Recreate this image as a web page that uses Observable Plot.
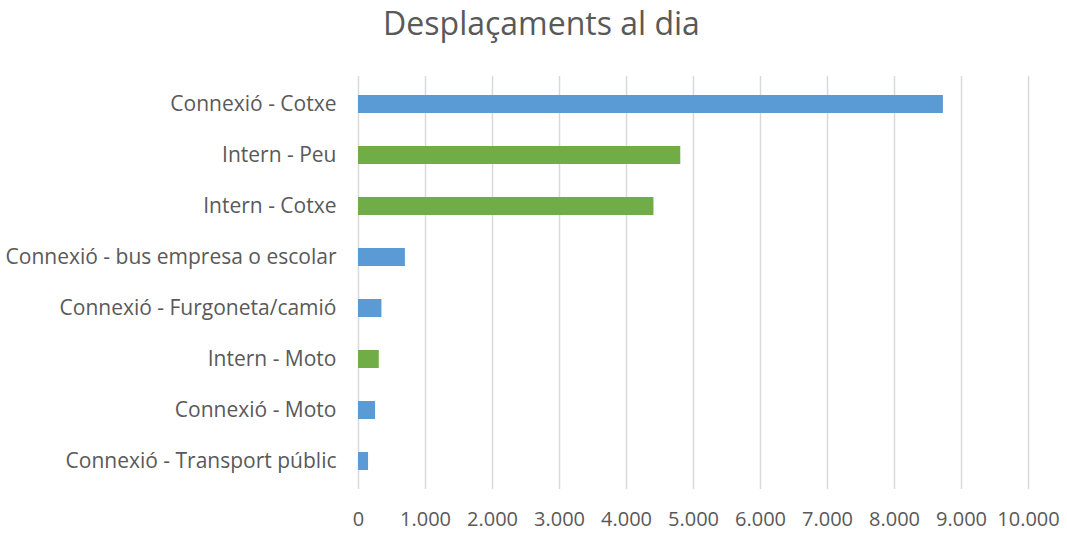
<!DOCTYPE html>
<html>
<head>
<meta charset="utf-8">
<script src="https://cdn.jsdelivr.net/npm/d3@7"></script>
<script src="https://cdn.jsdelivr.net/npm/@observablehq/plot@0.6"></script>
<style>
  body { margin: 0; background: #fff; }
  #title { height: 62px; font-family: "Open Sans", sans-serif; font-size: 32px; color: #595959; text-align: center; line-height: 46px; padding-left: 16px; box-sizing: border-box; }
  svg { display: block; }
</style>
</head>
<body>
<div id="title">Desplaçaments al dia</div>
<div id="chart"></div>
<script>
const categories = [
  "Connexió - Cotxe",
  "Intern - Peu",
  "Intern - Cotxe",
  "Connexió - bus empresa o escolar",
  "Connexió - Furgoneta/camió",
  "Intern - Moto",
  "Connexió - Moto",
  "Connexió - Transport públic"
];
const values = [8730, 4810, 4410, 700, 350, 310, 255, 150];
const groups = ["Connexió", "Intern", "Intern", "Connexió", "Connexió", "Intern", "Connexió", "Connexió"];
const xTicks = [0, 1000, 2000, 3000, 4000, 5000, 6000, 7000, 8000, 9000, 10000];

const data = categories.map((c, i) => ({category: c, value: values[i], group: groups[i]}));
const fmt = d => d3.format(",")(d).replace(/,/g, ".");

const chart = Plot.plot({
  width: 1067,
  height: 471,
  marginTop: 14,
  marginBottom: 44,
  marginLeft: 358,
  marginRight: 39,
  style: {fontFamily: "Open Sans, sans-serif", fontSize: "21px", color: "#595959", background: "#fff"},
  x: {domain: [0, 10000], ticks: xTicks, tickFormat: fmt, label: null},
  y: {domain: categories, paddingInner: 0.64, paddingOuter: 0.32, label: null},
  color: {domain: ["Connexió", "Intern"], range: ["#5b9bd5", "#70ad47"]},
  marks: [
    Plot.gridX(xTicks, {stroke: "#d9d9d9", strokeOpacity: 1, strokeWidth: 1.5}),
    Plot.barX(data, {x: "value", y: "category", fill: "group"}),
    Plot.axisX({ticks: xTicks, tickFormat: fmt, tickSize: 0, tickPadding: 22, fontSize: 20, label: null}),
    Plot.axisY({tickSize: 0, tickPadding: 22, fontSize: 21, label: null})
  ]
});
document.getElementById("chart").appendChild(chart);
</script>
</body>
</html>
